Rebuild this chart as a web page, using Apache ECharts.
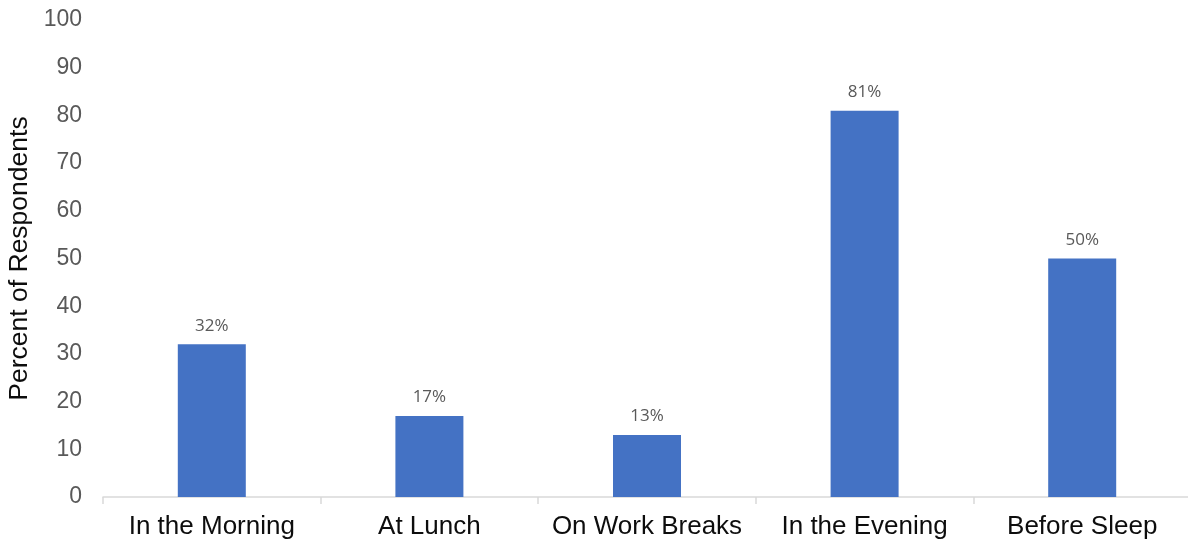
<!DOCTYPE html>
<html>
<head>
<meta charset="utf-8">
<script src="https://cdn.jsdelivr.net/npm/echarts@6/dist/echarts.min.js"></script>
<style>
  html, body { margin: 0; padding: 0; background: #fff; }
  #chart { width: 1188px; height: 550px; }
</style>
</head>
<body>
<div id="chart"></div>
<script>
// When respondents use the app (percent of respondents)
const categories = ['In the Morning', 'At Lunch', 'On Work Breaks', 'In the Evening', 'Before Sleep'];
const percents = [32, 17, 13, 81, 50];
const yTicks = { min: 0, max: 100, interval: 10 };

const chart = echarts.init(document.getElementById('chart'));
chart.setOption({
  animation: false,
  grid: {
    left: 103, right: -3, top: 20, bottom: 53,
    containLabel: false,
    outerBoundsMode: 'none'
  },
  xAxis: {
    type: 'category',
    data: categories,
    axisLine: { show: true, lineStyle: { color: '#d9d9d9', width: 1.5 } },
    axisTick: { show: true, alignWithLabel: false, length: 7, lineStyle: { color: '#d9d9d9', width: 1.5 } },
    axisLabel: {
      interval: 0,
      color: '#0d0d0d',
      fontFamily: 'Liberation Sans, Arial, sans-serif',
      fontSize: 26,
      margin: 17
    }
  },
  yAxis: {
    type: 'value',
    min: yTicks.min,
    max: yTicks.max,
    interval: yTicks.interval,
    name: 'Percent of Respondents',
    nameLocation: 'middle',
    nameGap: 70,
    nameTextStyle: {
      color: '#0d0d0d',
      fontFamily: 'Liberation Sans, Arial, sans-serif',
      fontSize: 26.5
    },
    axisLine: { show: false },
    axisTick: { show: false },
    splitLine: { show: false },
    axisLabel: {
      color: '#595959',
      fontFamily: 'Liberation Sans, Arial, sans-serif',
      fontSize: 23,
      margin: 21
    }
  },
  series: [{
    type: 'bar',
    data: percents,
    barWidth: 68,
    itemStyle: { color: '#4472c4' },
    label: {
      show: true,
      position: 'top',
      distance: 10,
      formatter: p => p.value + '%',
      color: '#595959',
      fontFamily: 'Open Sans, sans-serif',
      fontSize: 17
    }
  }]
});
</script>
</body>
</html>
